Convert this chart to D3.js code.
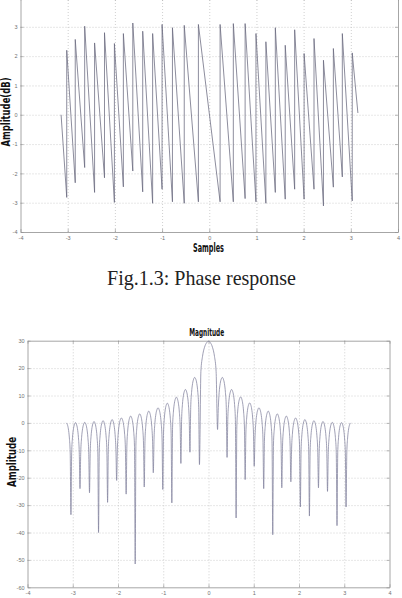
<!DOCTYPE html>
<html>
<head>
<meta charset="utf-8">
<script src="https://cdn.jsdelivr.net/npm/d3@7"></script>
<style>
  body { margin: 0; background: #fff; }
  svg { display: block; }
</style>
</head>
<body>
<svg width="402" height="598"></svg>
<script>
// ---- phase response (top) ----
// x of every wrap jump, value just before the jump and just after it
const phaseJumpX = [-3.02, -2.84, -2.64, -2.43, -2.22, -2.01, -1.82, -1.62, -1.41, -1.20, -1.00, -0.78, -0.53, -0.23,
    0.23, 0.51, 0.76, 0.99, 1.20, 1.40, 1.61, 1.81, 2.01, 2.22, 2.42, 2.63, 2.82, 3.03];
const phaseLow = [-2.82, -2.32, -1.80, -2.65, -2.15, -2.99, -2.46, -1.92, -2.63, -3.02, -2.54, -2.97, -3.02, -2.97,
    -2.97, -2.97, -2.86, -2.97, -3.02, -2.65, -2.88, -2.54, -2.88, -2.54, -3.11, -2.47, -2.12, -2.94];
const phaseHigh = [2.20, 2.57, 3.02, 2.45, 2.80, 2.43, 2.77, 3.13, 2.85, 2.77, 3.08, 2.97, 3.05, 3.08,
    3.08, 3.11, 3.11, 2.77, 2.49, 2.97, 2.37, 2.90, 2.09, 2.60, 1.86, 2.26, 2.77, 2.11];
const phaseStart = [-3.14, 0];
const phaseEnd = [3.15, 0.06];
const phaseXTicks = [-4, -3, -2, -1, 0, 1, 2, 3, 4];
const phaseYTicks = [-4, -3, -2, -1, 0, 1, 2, 3];

// ---- magnitude (bottom) ----
const magNullX = [-3.04, -2.84, -2.63, -2.43, -2.23, -2.03, -1.82, -1.62, -1.42, -1.22, -1.01, -0.81, -0.61, -0.41, -0.20,
    0.20, 0.41, 0.61, 0.81, 1.01, 1.22, 1.42, 1.62, 1.82, 2.03, 2.23, 2.43, 2.63, 2.84, 3.04];
const magNullDb = [-33.5, -24, -25.5, -40, -29, -21, -26, -51.5, -23.4, -18.2, -24.3, -29.2, -14.8, -10.7, -15.2,
    -2.4, -12.6, -34.7, -20.7, -15.8, -24, -40.8, -23.7, -21.5, -30.7, -34, -23.7, -25, -37.5, -30.7];
// top of each lobe between two nulls (main lobe in the middle)
const magLobeDb = [0.1, 0.2, 0.5, 0.8, 1.2, 1.8, 2.5, 3.3, 4.3, 5.5, 7.2, 9.4, 12.2, 16.6,
    29.8,
    16.6, 12.2, 9.5, 7.3, 5.5, 4.3, 3.3, 2.5, 1.8, 1.2, 0.8, 0.5, 0.2, 0.1];
const magEdgeX = [-3.1416, 3.1416];
const magEdgeDb = [0, 0];
// arch outline of a lobe as seen on the plot: dB below its top, at fractions of the lobe width
const archFrac = [0.08, 0.17, 0.28, 0.39, 0.5, 0.61, 0.72, 0.83, 0.92];
const archDrop = [-11, -5.5, -2.2, -0.6, 0, -0.6, -2.2, -5.5, -11];
const magXTicks = [-4, -3, -2, -1, 0, 1, 2, 3, 4];
const magYTicks = [-60, -50, -40, -30, -20, -10, 0, 10, 20, 30];

const svg = d3.select("svg");
const fmt = d => String(d);

function drawFrame(x, y, xTicks, yTicks) {
    const [left, right] = x.range();
    const [bottom, top] = y.range();
    const g = svg.append("g");

    // dotted grid
    g.append("g")
        .attr("transform", `translate(0,${bottom})`)
        .call(d3.axisBottom(x).tickValues(xTicks.slice(1, -1)).tickSize(-(bottom - top)).tickFormat(""))
        .call(s => s.select(".domain").remove());
    g.append("g")
        .attr("transform", `translate(${left},0)`)
        .call(d3.axisLeft(y).tickValues(yTicks.filter(d => d !== y.domain()[0] && d !== y.domain()[1])).tickSize(-(right - left)).tickFormat(""))
        .call(s => s.select(".domain").remove());
    g.selectAll("line").attr("stroke", "#c4c4c4").attr("stroke-width", 0.8).attr("stroke-dasharray", "1,2");

    // box with inward ticks
    const box = svg.append("g").attr("class", "box");
    box.append("g").attr("transform", `translate(0,${bottom})`)
        .call(d3.axisBottom(x).tickValues(xTicks).tickSizeInner(-3).tickSizeOuter(0).tickPadding(4).tickFormat(fmt));
    box.append("g").attr("transform", `translate(${left},0)`)
        .call(d3.axisLeft(y).tickValues(yTicks).tickSizeInner(-3).tickSizeOuter(0).tickPadding(3).tickFormat(fmt));
    box.append("g").attr("transform", `translate(0,${top})`)
        .call(d3.axisTop(x).tickValues(xTicks).tickSizeInner(-3).tickSizeOuter(0).tickFormat(""));
    box.append("g").attr("transform", `translate(${right},0)`)
        .call(d3.axisRight(y).tickValues(yTicks).tickSizeInner(-3).tickSizeOuter(0).tickFormat(""));
    box.selectAll(".domain").attr("stroke", "#8f8f8f").attr("stroke-width", 0.8);
    box.selectAll(".tick line").attr("stroke", "#8f8f8f").attr("stroke-width", 0.6);
    box.selectAll("text")
        .attr("fill", "#707070")
        .style("font-family", "'Liberation Sans', Arial, sans-serif")
        .style("font-size", "5.5px");
}

function boldLabel(text, x, y, size, len, rotate) {
    svg.append("text")
        .attr("transform", `translate(${x},${y})` + (rotate ? " rotate(-90)" : ""))
        .attr("text-anchor", "middle")
        .attr("textLength", len)
        .attr("lengthAdjust", "spacingAndGlyphs")
        .attr("fill", "#111")
        .style("font-family", "'DejaVu Sans Condensed', 'Liberation Sans Narrow', sans-serif")
        .style("font-weight", "bold")
        .style("font-size", size + "px")
        .text(text);
}

// ---- top chart ----
const xP = d3.scaleLinear().domain([-4, 4]).range([20.5, 398]);
const yP = d3.scaleLinear().domain([-4, 4]).range([232, -2.5]);
drawFrame(xP, yP, phaseXTicks, phaseYTicks);

const phasePts = [phaseStart];
phaseJumpX.forEach((x, i) => {
    phasePts.push([x, phaseLow[i]]);
    phasePts.push([x, phaseHigh[i]]);
});
phasePts.push(phaseEnd);

svg.append("path")
    .datum(phasePts)
    .attr("fill", "none")
    .attr("stroke", "#67677c")
    .attr("stroke-width", 0.75)
    .attr("d", d3.line().x(d => xP(d[0])).y(d => yP(d[1])));

boldLabel("Samples", 208.5, 252, 12, 31, false);
boldLabel("Amplitude(dB)", 10, 112, 12, 69, true);

// caption
svg.append("text")
    .attr("x", 201.5).attr("y", 285)
    .attr("text-anchor", "middle")
    .attr("textLength", 189)
    .attr("lengthAdjust", "spacingAndGlyphs")
    .attr("fill", "#222")
    .style("font-family", "'Liberation Serif', 'DejaVu Serif', serif")
    .style("font-size", "21px")
    .text("Fig.1.3: Phase response");

// ---- bottom chart ----
const xM = d3.scaleLinear().domain([-4, 4]).range([27.5, 389.5]);
const yM = d3.scaleLinear().domain([-60, 30]).range([587.3, 340.7]);
drawFrame(xM, yM, magXTicks, magYTicks);

// lobes between consecutive nulls, plus the half lobes at +-pi
const magPts = [];
const addArch = (a, b, top, keep) => {
    archFrac.forEach((f, i) => {
        const x = a + (b - a) * f;
        if (keep(x)) magPts.push([x, top + archDrop[i]]);
    });
};
const w0 = magNullX[0] - magEdgeX[0];
magPts.push([magEdgeX[0], magEdgeDb[0]]);
addArch(magEdgeX[0] - w0, magNullX[0], magEdgeDb[0], x => x > magEdgeX[0]);
magNullX.forEach((nx, i) => {
    magPts.push([nx, magNullDb[i]]);
    if (i < magLobeDb.length) addArch(nx, magNullX[i + 1], magLobeDb[i], () => true);
});
const w1 = magEdgeX[1] - magNullX[magNullX.length - 1];
addArch(magNullX[magNullX.length - 1], magEdgeX[1] + w1, magEdgeDb[1], x => x < magEdgeX[1]);
magPts.push([magEdgeX[1], magEdgeDb[1]]);

svg.append("path")
    .datum(magPts)
    .attr("fill", "none")
    .attr("stroke", "#80809c")
    .attr("stroke-width", 0.75)
    .attr("d", d3.line().curve(d3.curveMonotoneX).x(d => xM(d[0])).y(d => yM(d[1])));

boldLabel("Magnitude", 206.7, 336, 11, 35, false);
boldLabel("Amplitude", 16, 462, 12, 50, true);
</script>
</body>
</html>
